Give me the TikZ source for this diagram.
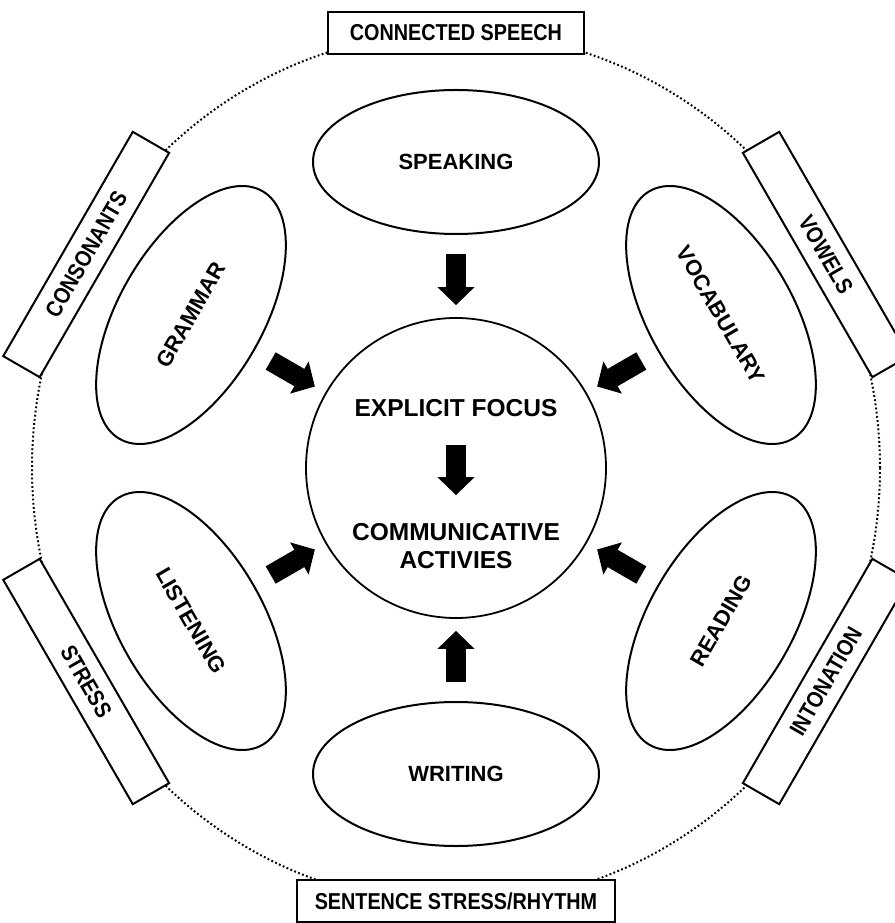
\documentclass[tikz,border=0pt]{standalone}
\usepackage{fontspec}
\setmainfont{Liberation Sans}
\newfontfamily\narrowfont{Liberation Sans}[FakeStretch=0.86]
\usetikzlibrary{arrows.meta,shapes.geometric}
\tikzset{
  skill/.style  ={draw, ellipse, line width=2pt, minimum width=286pt, minimum height=144pt, inner sep=0pt,
                  font=\fontsize{22}{26}\selectfont\bfseries},
  sound/.style  ={draw, fill=white, line width=2pt, minimum height=42pt, inner sep=0pt,
                  font=\narrowfont\fontsize{23}{27}\selectfont\bfseries},
  core/.style   ={draw, circle, line width=1.8pt, minimum size=300pt, inner sep=0pt},
  coretext/.style={align=center, inner sep=0pt, font=\fontsize{24.5}{28}\selectfont\bfseries},
  ring/.style   ={line width=2pt, dash pattern=on 1.8pt off 2.4pt},
  bigarr/.style ={-{Triangle[width=36pt,length=18pt]}, line width=20pt, draw=black},
  inarr/.style  ={bigarr, shorten <=19pt, shorten >=12pt},
}

\begin{document}
\begin{tikzpicture}[x=1pt,y=1pt]
  \useasboundingbox (-456,-455) rectangle (438,468);

  % dotted ring with the pronunciation areas sitting on it
  \draw[ring] (0,0) ellipse [x radius=424, y radius=436];
  \node[sound, minimum width=255pt] (conn) at (0,435)  {CONNECTED SPEECH};
  \node[sound, minimum width=317pt] (sent) at (0,-433) {SENTENCE STRESS/RHYTHM};
  \node[sound, minimum width=259pt, rotate=60]  (cons) at (150:427) {CONSONANTS};
  \node[sound, minimum width=259pt, rotate=-60] (vow)  at (30:427)  {VOWELS};
  \node[sound, minimum width=259pt, rotate=-60] (str)  at (210:427) {STRESS};
  \node[sound, minimum width=259pt, rotate=60]  (inton) at (330:427) {INTONATION};

  % centre circle
  \node[core] (core) at (0,0) {};
  \node[coretext] (focus) at (0,60)  {EXPLICIT FOCUS};
  \node[coretext] (comm)  at (0,-78) {COMMUNICATIVE\\ACTIVIES};
  \draw[bigarr, shorten <=28pt, shorten >=28pt] (focus) -- (comm);

  % the six skills round the centre
  \node[skill] (speak) at (90:306)  {SPEAKING};
  \node[skill] (write) at (270:306) {WRITING};
  \node[skill, rotate=60]  (gram)  at (150:306) {GRAMMAR};
  \node[skill, rotate=-60] (vocab) at (30:306)  {VOCABULARY};
  \node[skill, rotate=-60] (listen) at (210:306) {LISTENING};
  \node[skill, rotate=60]  (read)  at (330:306) {READING};

  \draw[inarr] (speak)  -- (core);
  \draw[inarr] (write)  -- (core);
  \draw[inarr] (gram)   -- (core);
  \draw[inarr] (vocab)  -- (core);
  \draw[inarr] (listen) -- (core);
  \draw[inarr] (read)   -- (core);
\end{tikzpicture}
\end{document}
